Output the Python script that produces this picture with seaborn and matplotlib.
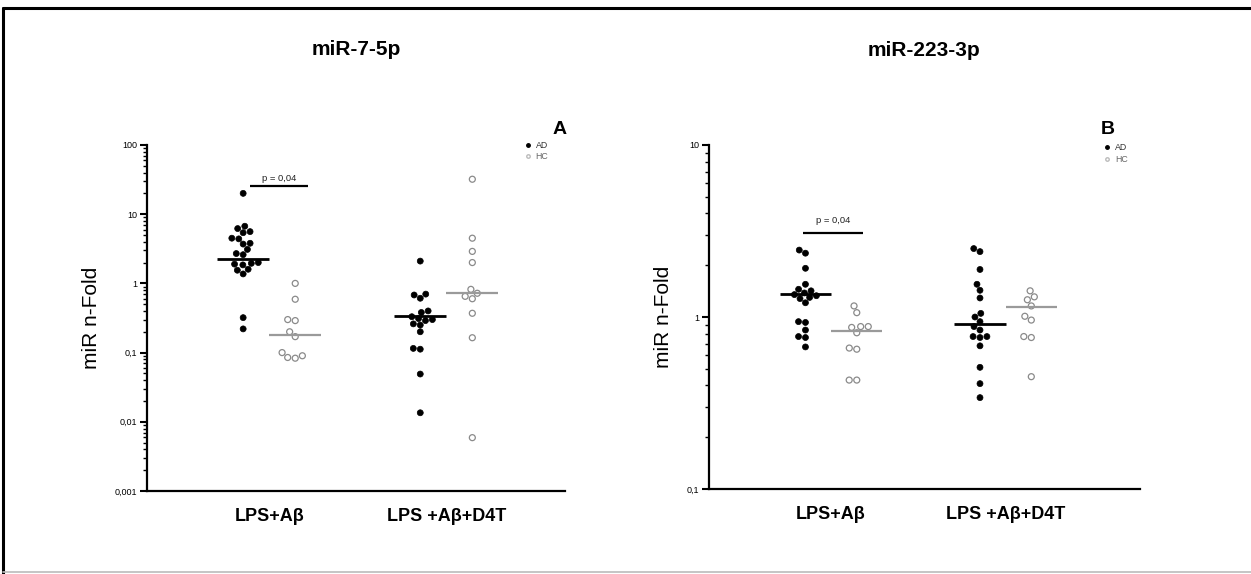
import numpy as np
import pandas as pd
import matplotlib
matplotlib.use("Agg")
import matplotlib.pyplot as plt
import seaborn as sns
from matplotlib.lines import Line2D
from matplotlib.ticker import LogLocator, NullFormatter, FixedLocator, FixedFormatter

sns.set_theme(style="white")
plt.rcParams['font.family'] = ['Liberation Sans', 'DejaVu Sans']
plt.rcParams['text.color'] = 'black'
plt.rcParams['axes.labelcolor'] = 'black'
plt.rcParams['xtick.color'] = 'black'
plt.rcParams['ytick.color'] = 'black'

# ---------------- data ----------------
conditions = ["LPS+Aβ", "LPS +Aβ+D4T"]
groups = ["AD", "HC"]

# miR-7-5p
ad_lps_7 = [20, 6.7, 6.2, 5.6, 5.4, 4.5, 4.4, 3.8, 3.7, 3.1, 2.7, 2.6, 2.0, 1.95,
            1.9, 1.85, 1.6, 1.55, 1.37, 0.32, 0.22]
hc_lps_7 = [1.0, 0.59, 0.30, 0.29, 0.20, 0.17, 0.10, 0.09, 0.085, 0.083]
ad_d4t_7 = [2.1, 0.70, 0.68, 0.61, 0.40, 0.38, 0.33, 0.31, 0.30, 0.29, 0.26, 0.25,
            0.20, 0.115, 0.112, 0.049, 0.0135]
hc_d4t_7 = [32, 4.5, 2.9, 2.0, 0.82, 0.72, 0.65, 0.6, 0.37, 0.164, 0.0059]
median_ad_7 = [2.23, 0.34]
median_hc_7 = [0.18, 0.72]
yticks_7 = [0.001, 0.01, 0.1, 1, 10, 100]
yticklabels_7 = ["0,001", "0,01", "0,1", "1", "10", "100"]

# miR-223-3p
ad_lps_223 = [2.45, 2.35, 1.92, 1.55, 1.45, 1.42, 1.38, 1.35, 1.33, 1.30, 1.28, 1.21,
              0.94, 0.93, 0.84, 0.77, 0.76, 0.67]
hc_lps_223 = [1.16, 1.06, 0.88, 0.88, 0.87, 0.81, 0.66, 0.65, 0.43, 0.43]
ad_d4t_223 = [2.5, 2.4, 1.89, 1.55, 1.43, 1.29, 1.05, 1.0, 0.94, 0.88, 0.84, 0.77,
              0.77, 0.76, 0.68, 0.51, 0.41, 0.34]
hc_d4t_223 = [1.42, 1.31, 1.26, 1.16, 1.01, 0.96, 0.77, 0.76, 0.45]
median_ad_223 = [1.37, 0.91]
median_hc_223 = [0.83, 1.14]
yticks_223 = [0.1, 1, 10]
yticklabels_223 = ["0,1", "1", "10"]

titles = ["miR-7-5p", "miR-223-3p"]
panel_letters = ["A", "B"]
p_text = "p = 0,04"
p_height = [25.5, 3.07]

# ---------------- styling ----------------
offset = {"AD": -0.147, "HC": 0.147}
hc_edge = "#8a8a8a"


def build_df(ad_lps, hc_lps, ad_d4t, hc_d4t):
    rows = []
    for ci, (ad, hc) in enumerate([(ad_lps, hc_lps), (ad_d4t, hc_d4t)]):
        for g, vals in (("AD", ad), ("HC", hc)):
            for v in vals:
                rows.append({"condition": conditions[ci], "group": g,
                             "pos": ci + offset[g], "value": v})
    return pd.DataFrame(rows)


fig = plt.figure(figsize=(12.51, 5.74), dpi=100)
ax1 = fig.add_axes([0.1175, 0.1446, 0.3341, 0.6028])
ax2 = fig.add_axes([0.5667, 0.1480, 0.3446, 0.5994])

panels = [
    (ax1, build_df(ad_lps_7, hc_lps_7, ad_d4t_7, hc_d4t_7), median_ad_7, median_hc_7,
     yticks_7, yticklabels_7, (-0.69, 1.67), (-0.107, 0.22), 0.988, (0.905, 1.012)),
    (ax2, build_df(ad_lps_223, hc_lps_223, ad_d4t_223, hc_d4t_223), median_ad_223,
     median_hc_223, yticks_223, yticklabels_223, (-0.70, 1.77), (-0.16, 0.18), 0.926,
     (0.918, 1.005)),
]

for i, (ax, df, med_ad, med_hc, yt, ytl, xlim, pspan, letter_x, leg_anchor) in enumerate(panels):
    ax.set_yscale("log")
    ax.set_ylim(yt[0], yt[-1])
    ax.set_xlim(*xlim)
    sns.swarmplot(data=df, x="pos", y="value", hue="group", native_scale=True,
                  palette={"AD": "black", "HC": "white"}, size=4.3, legend=False,
                  ax=ax)
    for coll in ax.collections:
        fc = coll.get_facecolor()
        if len(fc) and fc[0][0] > 0.5:
            coll.set_edgecolor(hc_edge)
            coll.set_linewidth(0.9)
        else:
            coll.set_edgecolor("black")
            coll.set_linewidth(0.5)
    # median lines
    for ci in range(len(conditions)):
        c_ad = ci + offset["AD"]
        c_hc = ci + offset["HC"]
        ax.hlines(med_ad[ci], c_ad - 0.147, c_ad + 0.147, color="black", lw=2.0, zorder=4)
        ax.hlines(med_hc[ci], c_hc - 0.147, c_hc + 0.147, color="#9a9a9a", lw=1.6, zorder=4)
    ax.set_xlim(*xlim)
    ax.set_ylim(yt[0], yt[-1])

    # significance bar
    ax.hlines(p_height[i], pspan[0], pspan[1], color="black", lw=1.6)
    ax.text(np.mean(pspan), p_height[i] * 1.12, p_text, ha="center", va="bottom",
            fontsize=6.8, color="#222222")

    # axes styling
    for s in ["top", "right"]:
        ax.spines[s].set_visible(False)
    for s in ["left", "bottom"]:
        ax.spines[s].set_linewidth(1.6)
        ax.spines[s].set_color("black")
    ax.yaxis.set_major_locator(FixedLocator(yt))
    ax.yaxis.set_major_formatter(FixedFormatter(ytl))
    ax.yaxis.set_minor_locator(LogLocator(base=10, subs=np.arange(2, 10)))
    ax.yaxis.set_minor_formatter(NullFormatter())
    ax.tick_params(axis="y", which="major", direction="out", length=5, width=1.5,
                   labelsize=6.5, pad=2, left=True, colors="black")
    ax.tick_params(axis="y", which="minor", direction="out", length=3, width=1.0,
                   left=True, colors="black")
    ax.set_xticks(range(len(conditions)))
    ax.set_xticklabels(conditions, fontsize=13, fontweight="bold")
    ax.tick_params(axis="x", length=0, pad=12)
    ax.set_xlabel("")
    ax.set_ylabel("miR n-Fold", fontsize=15, labelpad=10)
    ax.grid(False)

    ax.text(0.5, 1.275, titles[i], transform=ax.transAxes, ha="center", va="center",
            fontsize=15, fontweight="bold")
    ax.text(letter_x, 1.045, panel_letters[i], transform=ax.transAxes, ha="center",
            va="center", fontsize=14, fontweight="bold")
    handles = [Line2D([], [], marker="o", linestyle="", markersize=2.5,
                      markerfacecolor="black", markeredgecolor="black", label="AD"),
               Line2D([], [], marker="o", linestyle="", markersize=2.5,
                      markerfacecolor="white", markeredgecolor="#bbbbbb", label="HC")]
    leg = ax.legend(handles=handles, loc="upper left", bbox_to_anchor=leg_anchor,
                    bbox_transform=ax.transAxes, frameon=False, fontsize=6.3,
                    handlelength=0.6, handletextpad=0.6, labelspacing=0.3,
                    borderpad=0, borderaxespad=0)
    for t, col in zip(leg.get_texts(), ["#333333", "#666666"]):
        t.set_color(col)

# figure frame
W, H = 1251, 574
fig.add_artist(Line2D([3 / W, 1], [1 - 8 / H, 1 - 8 / H], transform=fig.transFigure,
                      color="black", lw=2.2))
fig.add_artist(Line2D([3 / W, 3 / W], [0, 1 - 8 / H], transform=fig.transFigure,
                      color="black", lw=2.2))
fig.add_artist(Line2D([3 / W, 1], [2.5 / H, 2.5 / H], transform=fig.transFigure,
                      color="#bbbbbb", lw=1.2))

fig.savefig("out.png", dpi=100, facecolor="white")
